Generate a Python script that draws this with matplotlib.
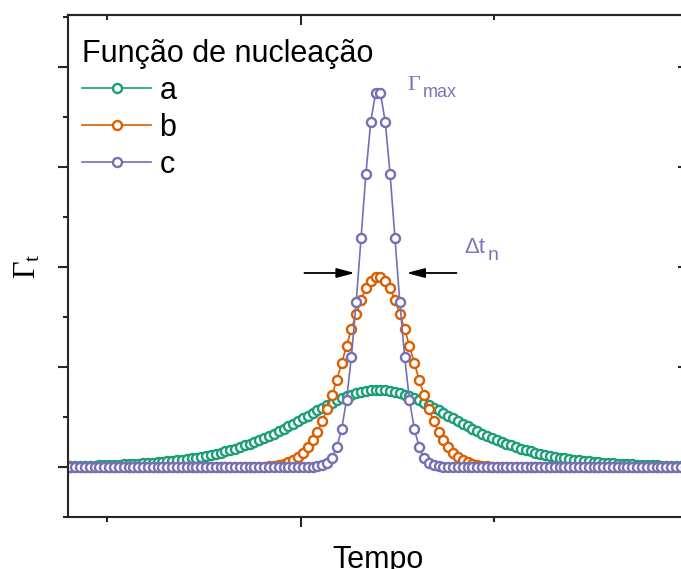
import numpy as np
import matplotlib
matplotlib.use("Agg")
import matplotlib.pyplot as plt
from matplotlib.ticker import MultipleLocator, NullFormatter

# ---------------- data ----------------
# sampling grid of the time axis (one point every unit)
time = np.arange(32.5, 160.0, 1.0)

a_vals = [
    0.010, 0.010, 0.011, 0.012, 0.014, 0.015, 0.016, 0.018, 0.020, 0.021, 0.023, 0.026, 0.028, 0.031, 0.033, 0.037,
    0.040, 0.044, 0.048, 0.052, 0.057, 0.062, 0.068, 0.074, 0.080, 0.088, 0.095, 0.104, 0.113, 0.123, 0.134, 0.145,
    0.157, 0.170, 0.185, 0.200, 0.216, 0.233, 0.251, 0.271, 0.291, 0.312, 0.335, 0.358, 0.382, 0.407, 0.433, 0.459,
    0.486, 0.513, 0.540, 0.567, 0.593, 0.618, 0.643, 0.666, 0.687, 0.707, 0.724, 0.739, 0.751, 0.760, 0.766, 0.770,
    0.770, 0.766, 0.760, 0.751, 0.739, 0.724, 0.707, 0.687, 0.666, 0.643, 0.618, 0.593, 0.567, 0.540, 0.513, 0.486,
    0.459, 0.433, 0.407, 0.382, 0.358, 0.335, 0.312, 0.291, 0.271, 0.251, 0.233, 0.216, 0.200, 0.185, 0.170, 0.157,
    0.145, 0.134, 0.123, 0.113, 0.104, 0.095, 0.088, 0.080, 0.074, 0.068, 0.062, 0.057, 0.052, 0.048, 0.044, 0.040,
    0.037, 0.033, 0.031, 0.028, 0.026, 0.023, 0.021, 0.020, 0.018, 0.016, 0.015, 0.014, 0.012, 0.011, 0.010, 0.010,
]

b_vals = [
    0.00, 0.00, 0.00, 0.00, 0.00, 0.00, 0.00, 0.00, 0.00, 0.00, 0.00, 0.00, 0.00, 0.00, 0.00, 0.00,
    0.00, 0.00, 0.00, 0.00, 0.00, 0.00, 0.00, 0.00, 0.00, 0.00, 0.00, 0.00, 0.00, 0.00, 0.00, 0.00,
    0.00, 0.00, 0.00, 0.00, 0.00, 0.00, 0.00, 0.00, 0.00, 0.01, 0.01, 0.02, 0.03, 0.05, 0.07, 0.10,
    0.14, 0.20, 0.27, 0.35, 0.46, 0.58, 0.72, 0.87, 1.04, 1.21, 1.38, 1.53, 1.67, 1.79, 1.86, 1.90,
    1.90, 1.86, 1.79, 1.67, 1.53, 1.38, 1.21, 1.04, 0.87, 0.72, 0.58, 0.46, 0.35, 0.27, 0.20, 0.14,
    0.10, 0.07, 0.05, 0.03, 0.02, 0.01, 0.01, 0.00, 0.00, 0.00, 0.00, 0.00, 0.00, 0.00, 0.00, 0.00,
    0.00, 0.00, 0.00, 0.00, 0.00, 0.00, 0.00, 0.00, 0.00, 0.00, 0.00, 0.00, 0.00, 0.00, 0.00, 0.00,
    0.00, 0.00, 0.00, 0.00, 0.00, 0.00, 0.00, 0.00, 0.00, 0.00, 0.00, 0.00, 0.00, 0.00, 0.00, 0.00,
]

c_vals = [
    0.00, 0.00, 0.00, 0.00, 0.00, 0.00, 0.00, 0.00, 0.00, 0.00, 0.00, 0.00, 0.00, 0.00, 0.00, 0.00,
    0.00, 0.00, 0.00, 0.00, 0.00, 0.00, 0.00, 0.00, 0.00, 0.00, 0.00, 0.00, 0.00, 0.00, 0.00, 0.00,
    0.00, 0.00, 0.00, 0.00, 0.00, 0.00, 0.00, 0.00, 0.00, 0.00, 0.00, 0.00, 0.00, 0.00, 0.00, 0.00,
    0.00, 0.00, 0.00, 0.01, 0.02, 0.04, 0.09, 0.20, 0.38, 0.67, 1.10, 1.65, 2.29, 2.93, 3.45, 3.74,
    3.74, 3.45, 2.93, 2.29, 1.65, 1.10, 0.67, 0.38, 0.20, 0.09, 0.04, 0.02, 0.01, 0.00, 0.00, 0.00,
    0.00, 0.00, 0.00, 0.00, 0.00, 0.00, 0.00, 0.00, 0.00, 0.00, 0.00, 0.00, 0.00, 0.00, 0.00, 0.00,
    0.00, 0.00, 0.00, 0.00, 0.00, 0.00, 0.00, 0.00, 0.00, 0.00, 0.00, 0.00, 0.00, 0.00, 0.00, 0.00,
    0.00, 0.00, 0.00, 0.00, 0.00, 0.00, 0.00, 0.00, 0.00, 0.00, 0.00, 0.00, 0.00, 0.00, 0.00, 0.00,
]

series_labels = ["a", "b", "c"]
legend_title = "Função de nucleação"
x_label = "Tempo"
y_label = r"$\Gamma_{\mathrm{t}}$"

# ---------------- style ----------------
plt.rcParams["font.family"] = ["Liberation Sans", "DejaVu Sans"]
plt.rcParams["mathtext.fontset"] = "custom"
plt.rcParams["mathtext.rm"] = "Liberation Serif"
plt.rcParams["mathtext.it"] = "Liberation Serif:italic"
plt.rcParams["mathtext.sf"] = "Liberation Sans"

colors = ["#1b9e77", "#d95f02", "#7570b3"]
spine_col = "#262626"
txt_purple = "#7a76b8"

fig = plt.figure(figsize=(6.81, 5.69), dpi=100)
ax = fig.add_axes([68 / 681, 52 / 569, 620 / 681, 502 / 569])

for vals, lab, col in zip([a_vals, b_vals, c_vals], series_labels, colors):
    ax.plot(time, vals, color=col, lw=1.2, marker="o", ms=6.5, mew=1.7,
            mfc="white", mec=col, label=lab)

ax.set_xlim(32, 160)
ax.set_ylim(-0.5, 4.52)
ax.xaxis.set_major_locator(MultipleLocator(80))
ax.xaxis.set_minor_locator(MultipleLocator(40))
ax.yaxis.set_major_locator(MultipleLocator(1))
ax.yaxis.set_minor_locator(MultipleLocator(0.5))
ax.tick_params(which="both", direction="out", width=1.5, color=spine_col,
               labelbottom=False, labelleft=False)
ax.tick_params(which="major", length=7.2)
ax.tick_params(which="minor", length=3.6)
for s in ax.spines.values():
    s.set_linewidth(1.5)
    s.set_color(spine_col)

secx = ax.secondary_xaxis("top")
secx.xaxis.set_major_locator(MultipleLocator(80))
secx.xaxis.set_minor_locator(MultipleLocator(40))
secx.xaxis.set_major_formatter(NullFormatter())
secx.tick_params(which="both", direction="in", width=1.5, color=spine_col)
secx.tick_params(which="major", length=7.2)
secx.tick_params(which="minor", length=3.6)
secx.spines["top"].set_linewidth(1.5)
secx.spines["top"].set_color(spine_col)

secy = ax.secondary_yaxis("right")
secy.yaxis.set_major_locator(MultipleLocator(1))
secy.yaxis.set_minor_locator(MultipleLocator(0.5))
secy.yaxis.set_major_formatter(NullFormatter())
secy.tick_params(which="both", direction="in", width=1.5, color=spine_col)
secy.tick_params(which="major", length=7.2)
secy.tick_params(which="minor", length=3.6)
secy.spines["right"].set_linewidth(1.5)
secy.spines["right"].set_color(spine_col)

ax.set_xlabel(x_label, fontsize=22, labelpad=13)
ax.set_ylabel(y_label, fontsize=22, labelpad=11)

leg = ax.legend(title=legend_title, loc="upper left", frameon=False,
                fontsize=22, title_fontsize=22, handlelength=2.28,
                handletextpad=0.26, labelspacing=0.23, borderaxespad=0.0,
                borderpad=0.45, alignment="left", numpoints=1,
                bbox_to_anchor=(0.0, 0.98))

# annotations
arrow_style = "-|>,head_length=0.6,head_width=0.16"
ax.annotate("", xy=(91.2, 1.94), xytext=(80.8, 1.94),
            arrowprops=dict(arrowstyle=arrow_style, color="black", lw=1.3,
                            mutation_scale=18, shrinkA=0, shrinkB=0))
ax.annotate("", xy=(101.9, 1.94), xytext=(112.2, 1.94),
            arrowprops=dict(arrowstyle=arrow_style, color="black", lw=1.3,
                            mutation_scale=18, shrinkA=0, shrinkB=0))

ax.text(102.1, 3.77, "Γ", family="Liberation Serif", fontsize=16,
        color=txt_purple, ha="left", va="baseline")
ax.text(105.2, 3.70, "max", fontsize=13, color=txt_purple,
        ha="left", va="baseline")
ax.text(113.9, 2.14, "Δt", fontsize=16, color=txt_purple,
        ha="left", va="baseline")
ax.text(118.6, 2.07, "n", fontsize=14, color=txt_purple,
        ha="left", va="baseline")

fig.savefig("out.png", dpi=100)
